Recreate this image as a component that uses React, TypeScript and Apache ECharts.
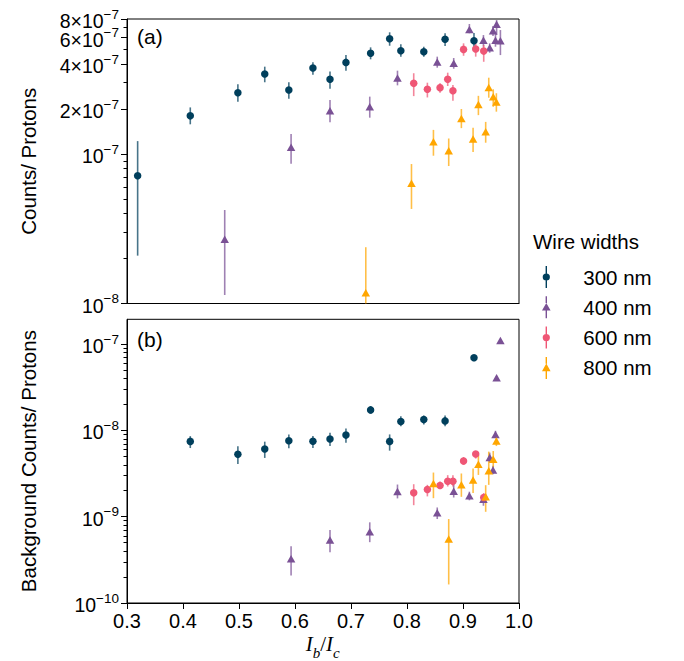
import React, { useEffect, useRef } from "react";
import * as echarts from "echarts";

const FONT = "'Liberation Sans', Arial, Helvetica, sans-serif";
const SERIF = "'Liberation Serif', 'DejaVu Serif', serif";

const widthNames = ["300 nm", "400 nm", "600 nm", "800 nm"];
const widthColors = ["#003f5c", "#7a5195", "#ef5675", "#ffa600"];

// ---- (a) Counts / Protons ----
const sigX300 = [0.319, 0.413, 0.498, 0.546, 0.589, 0.632, 0.6625, 0.691, 0.735, 0.769, 0.789, 0.83, 0.868, 0.9196];
const sig300 = [7.15e-8, 1.8e-7, 2.57e-7, 3.43e-7, 2.68e-7, 3.76e-7, 3.16e-7, 4.1e-7, 4.72e-7, 5.9e-7, 4.91e-7, 4.83e-7, 5.85e-7, 5.73e-7];
const sig300Lo = [2.09e-8, 1.58e-7, 2.24e-7, 3.02e-7, 2.34e-7, 3.39e-7, 2.73e-7, 3.61e-7, 4.3e-7, 5.3e-7, 4.48e-7, 4.48e-7, 5.28e-7, 4.96e-7];
const sig300Hi = [1.22e-7, 2.05e-7, 2.93e-7, 3.84e-7, 3.02e-7, 4.11e-7, 3.57e-7, 4.59e-7, 5.17e-7, 6.52e-7, 5.42e-7, 5.22e-7, 6.42e-7, 6.45e-7];

const sigX400 = [0.4745, 0.593, 0.6625, 0.7335, 0.783, 0.854, 0.8834, 0.9114, 0.9365, 0.9477, 0.9536, 0.958, 0.96, 0.9668];
const sig400 = [2.69e-8, 1.11e-7, 1.95e-7, 2.07e-7, 3.22e-7, 4.12e-7, 4.05e-7, 6.82e-7, 5.77e-7, 5.14e-7, 6.68e-7, 5.77e-7, 7.38e-7, 5.73e-7];
const sig400Lo = [1.14e-8, 8.61e-8, 1.63e-7, 1.75e-7, 2.88e-7, 3.78e-7, 3.72e-7, 6.42e-7, 5.22e-7, 4.76e-7, 6.15e-7, 5.22e-7, 6.25e-7, 4.59e-7];
const sig400Hi = [4.22e-8, 1.36e-7, 2.3e-7, 2.42e-7, 3.61e-7, 4.48e-7, 4.39e-7, 7.41e-7, 6.25e-7, 5.5e-7, 7.18e-7, 6.58e-7, 7.87e-7, 6.75e-7];

const sigX600 = [0.812, 0.8364, 0.859, 0.8727, 0.882, 0.901, 0.9227, 0.937];
const sig600 = [2.97e-7, 2.71e-7, 2.78e-7, 3.16e-7, 2.65e-7, 5.01e-7, 5.04e-7, 4.88e-7];
const sig600Lo = [2.44e-7, 2.39e-7, 2.57e-7, 2.85e-7, 2.27e-7, 4.54e-7, 4.48e-7, 4.14e-7];
const sig600Hi = [3.47e-7, 3.0e-7, 2.97e-7, 3.5e-7, 2.89e-7, 5.5e-7, 5.5e-7, 5.36e-7];

const sigX800 = [0.7264, 0.808, 0.8472, 0.8745, 0.8971, 0.918, 0.9275, 0.9405, 0.946, 0.954, 0.9596];
const sig800 = [1.18e-8, 6.37e-8, 1.21e-7, 1.05e-7, 1.73e-7, 1.26e-7, 2.14e-7, 1.41e-7, 2.79e-7, 2.42e-7, 2.23e-7];
const sig800Lo = [5.0e-9, 4.29e-8, 9.74e-8, 8.31e-8, 1.49e-7, 1.03e-7, 1.82e-7, 1.19e-7, 2.38e-7, 2.07e-7, 1.92e-7];
const sig800Hi = [2.38e-8, 8.57e-8, 1.45e-7, 1.27e-7, 2.0e-7, 1.5e-7, 2.45e-7, 1.64e-7, 3.24e-7, 2.71e-7, 2.55e-7];

// ---- (b) Background Counts / Protons ----
const bgX300 = [0.413, 0.498, 0.546, 0.589, 0.632, 0.6625, 0.691, 0.735, 0.769, 0.789, 0.83, 0.868, 0.9196];
const bg300 = [7.46e-9, 5.28e-9, 6.08e-9, 7.6e-9, 7.5e-9, 7.94e-9, 8.83e-9, 1.73e-8, 7.46e-9, 1.27e-8, 1.34e-8, 1.29e-8, 6.95e-8];
const bg300Lo = [6.25e-9, 4.09e-9, 4.8e-9, 6.2e-9, 6.25e-9, 6.59e-9, 7.21e-9, 1.56e-8, 5.83e-9, 1.12e-8, 1.17e-8, 1.12e-8, 6.6e-8];
const bg300Hi = [8.59e-9, 6.54e-9, 7.41e-9, 8.99e-9, 8.59e-9, 9.4e-9, 1.05e-8, 1.88e-8, 8.99e-9, 1.46e-8, 1.49e-8, 1.49e-8, 7.3e-8];

const bgX400 = [0.593, 0.6625, 0.7335, 0.783, 0.854, 0.8834, 0.9114, 0.9365, 0.9477, 0.9536, 0.958, 0.96, 0.9668];
const bg400 = [3.25e-10, 5.38e-10, 6.7e-10, 1.96e-9, 1.11e-9, 1.97e-9, 1.75e-9, 1.59e-9, 4.84e-9, 3.48e-9, 9.0e-9, 4.08e-8, 1.1e-7];
const bg400Lo = [2.08e-10, 3.88e-10, 5.07e-10, 1.63e-9, 9.4e-10, 1.67e-9, 1.55e-9, 1.34e-9, 4.24e-9, 3.1e-9, 8.2e-9, 3.9e-8, 1.06e-7];
const bg400Hi = [4.56e-10, 7.03e-10, 8.61e-10, 2.36e-9, 1.28e-9, 2.38e-9, 1.95e-9, 1.83e-9, 5.53e-9, 3.9e-9, 9.9e-9, 4.26e-8, 1.14e-7];

const bgX600 = [0.812, 0.8364, 0.859, 0.8727, 0.882, 0.901, 0.9227, 0.937];
const bg600 = [1.89e-9, 2.07e-9, 2.3e-9, 2.58e-9, 2.58e-9, 4.43e-9, 5.33e-9, 1.67e-9];
const bg600Lo = [1.36e-9, 1.72e-9, 2.09e-9, 2.24e-9, 2.24e-9, 3.98e-9, 4.72e-9, 1.47e-9];
const bg600Hi = [2.38e-9, 2.34e-9, 2.56e-9, 3.03e-9, 3.03e-9, 4.92e-9, 5.77e-9, 1.88e-9];

const bgX800 = [0.8472, 0.8745, 0.8971, 0.918, 0.9275, 0.9405, 0.946, 0.954, 0.9596];
const bg800 = [2.43e-9, 5.53e-10, 2.34e-9, 2.67e-9, 4.06e-9, 1.7e-9, 3.4e-9, 4.63e-9, 7.53e-9];
const bg800Lo = [1.64e-9, 1.64e-10, 1.7e-9, 1.88e-9, 3.05e-9, 1.14e-9, 2.34e-9, 3.72e-9, 6.59e-9];
const bg800Hi = [3.25e-9, 9.4e-10, 3.17e-9, 3.61e-9, 5.19e-9, 2.32e-9, 5.68e-9, 5.77e-9, 8.3e-9];

// ---- ticks ----
const xTicks = [0.3, 0.4, 0.5, 0.6, 0.7, 0.8, 0.9, 1.0];
const topMajorTicks = [1e-8, 1e-7, 2e-7, 4e-7, 6e-7, 8e-7];
const topLabelsA = [1e-8, 1e-7, 2e-7, 4e-7, 8e-7];
const topLabelsB = [6e-7];
const topMinorTicks = [2e-8, 3e-8, 4e-8, 5e-8, 6e-8, 7e-8, 8e-8, 9e-8, 3e-7, 5e-7, 7e-7];
const bottomMajorTicks = [1e-10, 1e-9, 1e-8, 1e-7];
const bottomMinorTicks = [
  2e-10, 3e-10, 4e-10, 5e-10, 6e-10, 7e-10, 8e-10, 9e-10,
  2e-9, 3e-9, 4e-9, 5e-9, 6e-9, 7e-9, 8e-9, 9e-9,
  2e-8, 3e-8, 4e-8, 5e-8, 6e-8, 7e-8, 8e-8, 9e-8,
  2e-7,
];
const topRange = [1e-8, 8e-7];
const bottomRange = [1e-10, 1.94e-7];

const L = (v: number) => Math.log10(v);

const CIRCLE_ICON = "path://M4.3,0H5.7V7.6H4.3Z M4.3,14.4H5.7V22H4.3Z M1.4,11A3.6,3.6,0,0,1,8.6,11A3.6,3.6,0,0,1,1.4,11Z";
const TRI_ICON = "path://M4.3,0H5.7V6.8H4.3Z M4.3,14.3H5.7V22H4.3Z M5,6.6L9.3,14.3L0.7,14.3Z";

function hexA(hex: string, a: number) {
  const r = parseInt(hex.slice(1, 3), 16);
  const g = parseInt(hex.slice(3, 5), 16);
  const b = parseInt(hex.slice(5, 7), 16);
  return `rgba(${r},${g},${b},${a})`;
}

function sciLabel(value: number) {
  const e = Math.floor(value + 1e-6);
  const m = Math.round(Math.pow(10, value - e));
  const exp = "\u2212" + String(-e);
  return m === 1 ? `{b|10}{s|${exp}}` : `{b|${m}\u00d710}{s|${exp}}`;
}

const sciRich = {
  b: { fontSize: 19.5, fontFamily: FONT, color: "#000", lineHeight: 24, verticalAlign: "bottom" },
  s: { fontSize: 13.5, fontFamily: FONT, color: "#000", lineHeight: 12, verticalAlign: "top" },
};

function errSeries(name: string, xs: number[], lo: number[], hi: number[], color: string, axis: number) {
  return {
    type: "custom",
    name: name + " error",
    xAxisIndex: axis,
    yAxisIndex: axis * 2,
    silent: true,
    data: xs.map((x, i) => [x, L(lo[i]), L(hi[i])]),
    encode: { x: 0, y: [1, 2] },
    renderItem: (params: any, api: any) => {
      const x = api.value(0);
      const p1 = api.coord([x, api.value(1)]);
      const p2 = api.coord([x, api.value(2)]);
      const cs = params.coordSys;
      const clampY = (y: number) => Math.max(cs.y, Math.min(cs.y + cs.height, y));
      return {
        type: "line",
        shape: { x1: p1[0], y1: clampY(p1[1]), x2: p2[0], y2: clampY(p2[1]) },
        style: { stroke: hexA(color, 0.72), lineWidth: 1.6 },
      };
    },
  };
}

function markSeries(name: string, xs: number[], ys: number[], color: string, tri: boolean, axis: number) {
  return {
    type: "scatter",
    name,
    xAxisIndex: axis,
    yAxisIndex: axis * 2,
    symbol: tri ? "triangle" : "circle",
    symbolSize: tri ? [8.5, 7.5] : 7.5,
    data: xs.map((x, i) => [x, L(ys[i])]),
    itemStyle: { color, opacity: 1 },
    emphasis: { disabled: true },
  };
}

export default function App() {
  const ref = useRef<HTMLDivElement>(null);
  useEffect(() => {
    if (!ref.current) return;
    const chart = echarts.init(ref.current, undefined, { renderer: "svg" });

    const topData = [
      [sigX300, sig300, sig300Lo, sig300Hi],
      [sigX400, sig400, sig400Lo, sig400Hi],
      [sigX600, sig600, sig600Lo, sig600Hi],
      [sigX800, sig800, sig800Lo, sig800Hi],
    ];
    const bottomData = [
      [bgX300, bg300, bg300Lo, bg300Hi],
      [bgX400, bg400, bg400Lo, bg400Hi],
      [bgX600, bg600, bg600Lo, bg600Hi],
      [bgX800, bg800, bg800Lo, bg800Hi],
    ];
    const series: any[] = [];
    [topData, bottomData].forEach((panel, axis) => {
      panel.forEach((d, k) => {
        const tri = k % 2 === 1;
        series.push(errSeries(widthNames[k], d[0], d[2], d[3], widthColors[k], axis));
        series.push(markSeries(widthNames[k], d[0], d[1], widthColors[k], tri, axis));
      });
    });

    const labelCfg = (vals: number[]) => ({
      customValues: vals.map(L),
      formatter: sciLabel,
      rich: sciRich,
      margin: 8,
      hideOverlap: false,
      showMinLabel: true,
      showMaxLabel: true,
    });

    const yMain = (grid: number, range: number[], major: number[], labels: number[], name: string, gap: number) => ({
      type: "value",
      gridIndex: grid,
      position: "left",
      min: L(range[0]),
      max: L(range[1]) + 1e-4,
      splitLine: { show: false },
      axisLine: { show: true, lineStyle: { color: "#000", width: 1 } },
      axisTick: { show: true, customValues: major.map(L), length: 6, lineStyle: { color: "#000", width: 1 } },
      axisLabel: labelCfg(labels),
      name,
      nameLocation: "middle",
      nameGap: gap,
      nameTextStyle: { fontSize: 20.5, fontFamily: FONT, color: "#000" },
    });
    const yMinor = (grid: number, range: number[], minor: number[], labels: number[] | null) => ({
      type: "value",
      gridIndex: grid,
      position: "left",
      offset: 0,
      min: L(range[0]),
      max: L(range[1]) + 1e-4,
      splitLine: { show: false },
      axisLine: { show: false },
      axisTick: { show: true, customValues: minor.map(L), length: 3.5, lineStyle: { color: "#000", width: 1 } },
      axisLabel: labels ? labelCfg(labels) : { show: false },
    });

    const option: any = {
      animation: false,
      textStyle: { fontFamily: FONT },
      grid: [
        { left: 127, top: 19, width: 392, height: 284.5, show: true, borderColor: "#000", borderWidth: 1, backgroundColor: "transparent" },
        { left: 127, top: 319.3, width: 392, height: 285, show: true, borderColor: "#000", borderWidth: 1, backgroundColor: "transparent" },
      ],
      xAxis: [
        {
          type: "value", gridIndex: 0, min: 0.3, max: 1.0,
          splitLine: { show: false },
          axisLine: { show: true, lineStyle: { color: "#000" } },
          axisTick: { show: false },
          axisLabel: { show: false },
        },
        {
          type: "value", gridIndex: 1, min: 0.3, max: 1.0,
          splitLine: { show: false },
          axisLine: { show: true, lineStyle: { color: "#000" } },
          axisTick: { show: true, customValues: xTicks, length: 6, lineStyle: { color: "#000" } },
          axisLabel: { customValues: xTicks, formatter: (v: number) => v.toFixed(1), fontSize: 20, color: "#000", margin: 8 },
          name: "{i|I}{sub|b}{n|/}{i|I}{sub|c}{h| }",
          nameLocation: "middle",
          nameGap: 30,
          nameTextStyle: {
            rich: {
              i: { fontFamily: SERIF, fontStyle: "italic", fontSize: 21, color: "#000", lineHeight: 22, verticalAlign: "top" },
              n: { fontFamily: SERIF, fontSize: 21, color: "#000", lineHeight: 22, verticalAlign: "top" },
              sub: { fontFamily: SERIF, fontStyle: "italic", fontSize: 15, color: "#000", lineHeight: 15, verticalAlign: "bottom" },
              h: { fontSize: 2, lineHeight: 27 },
            },
          },
        },
      ],
      yAxis: [
        yMain(0, topRange, topMajorTicks, topLabelsA, "Counts/ Protons", 88),
        yMinor(0, topRange, topMinorTicks, topLabelsB),
        yMain(1, bottomRange, bottomMajorTicks, bottomMajorTicks, "Background Counts/ Protons", 88),
        yMinor(1, bottomRange, bottomMinorTicks, null),
      ],
      legend: {
        orient: "vertical",
        left: 542,
        top: 266,
        padding: 0,
        itemWidth: 10,
        itemHeight: 22,
        itemGap: 8.3,
        selectedMode: false,
        textStyle: { fontSize: 20.5, fontFamily: FONT, color: "#000", lineHeight: 22, padding: [0, 0, 0, 27] },
        data: [
          { name: widthNames[0], icon: CIRCLE_ICON },
          { name: widthNames[1], icon: TRI_ICON },
          { name: widthNames[2], icon: CIRCLE_ICON },
          { name: widthNames[3], icon: TRI_ICON },
        ],
      },
      graphic: [
        { type: "text", left: 533, top: 231, style: { text: "Wire widths", fontSize: 20.5, fontFamily: FONT, fill: "#000" } },
        { type: "text", left: 137, top: 26, style: { text: "(a)", fontSize: 21, fontFamily: FONT, fill: "#000" } },
        { type: "text", left: 137, top: 329, style: { text: "(b)", fontSize: 21, fontFamily: FONT, fill: "#000" } },
      ],
      series,
    };
    chart.setOption(option);
    return () => chart.dispose();
  }, []);
  return (
    <div
      ref={ref}
      style={{ position: "fixed", left: 0, top: 0, width: 684, height: 661, background: "#fff" }}
    />
  );
}
